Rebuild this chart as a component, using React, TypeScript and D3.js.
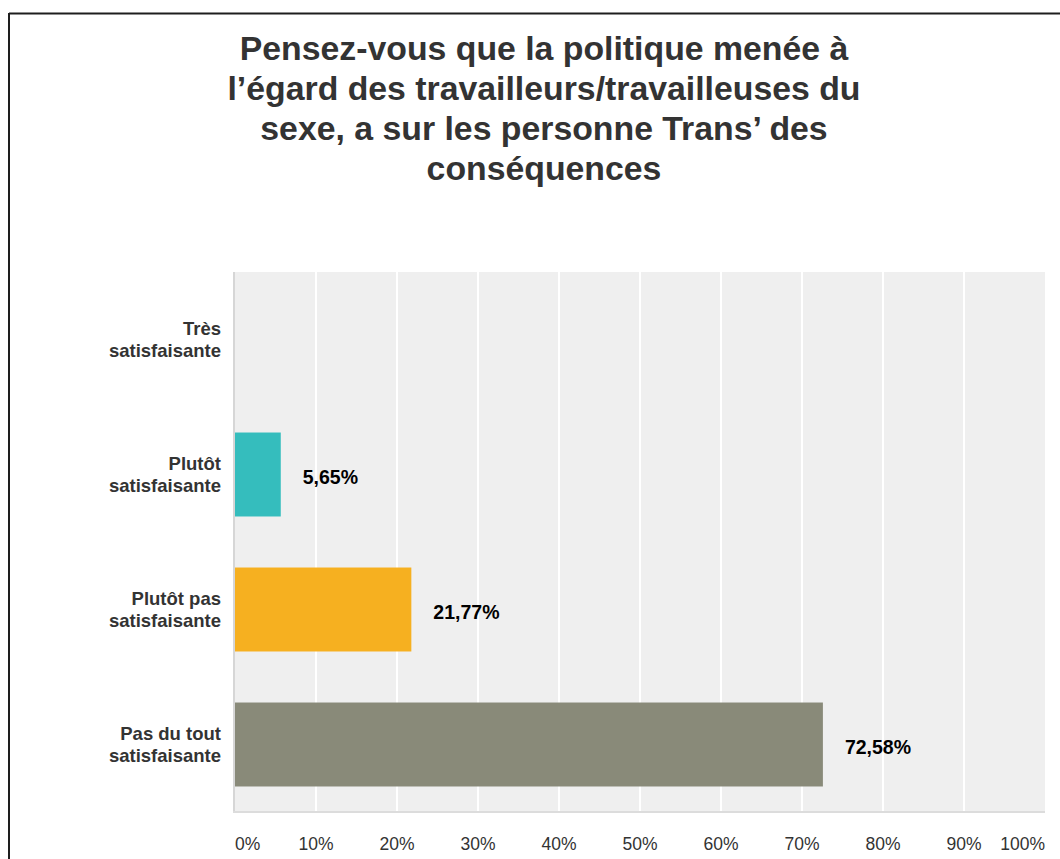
import React from 'react';
import * as d3 from 'd3';

const titleLines = [
  'Pensez-vous que la politique menée à',
  'l’égard des travailleurs/travailleuses du',
  'sexe, a sur les personne Trans’ des',
  'conséquences',
];
const categories = ['Très satisfaisante', 'Plutôt satisfaisante', 'Plutôt pas satisfaisante', 'Pas du tout satisfaisante'];
const labelLines = [
  ['Très', 'satisfaisante'],
  ['Plutôt', 'satisfaisante'],
  ['Plutôt pas', 'satisfaisante'],
  ['Pas du tout', 'satisfaisante'],
];
const values = [0, 5.65, 21.77, 72.58];
const colors = ['#35bdbd', '#35bdbd', '#f6b020', '#898a79'];
const ticks = [0, 10, 20, 30, 40, 50, 60, 70, 80, 90, 100];

const font = '"Liberation Sans", Arial, sans-serif';

const App = () => {
  const width = 1060;
  const height = 859;
  const plot = { left: 235, right: 1045, top: 272, bottom: 812 };

  const x = d3.scaleLinear().domain([0, 100]).range([plot.left, plot.right]);
  const y = d3.scaleBand<string>()
    .domain(categories)
    .range([plot.top, plot.bottom])
    .paddingInner(0.378)
    .paddingOuter(0.189);

  const fmt = (v: number) => v.toFixed(2).replace('.', ',') + '%';

  return (
    <svg width={width} height={height} style={{ position: 'absolute', left: 0, top: 0, fontFamily: font }}>
      <rect x={0} y={0} width={width} height={height} fill="#ffffff" />
      {/* frame */}
      <line x1={9} y1={13.5} x2={width} y2={13.5} stroke="#1e1e1e" strokeWidth={2} />
      <line x1={9} y1={13} x2={9} y2={height} stroke="#1e1e1e" strokeWidth={2} />

      {/* title */}
      {titleLines.map((t, i) => (
        <text key={i} x={544} y={60 + i * 40} textAnchor="middle" fontSize={33.8} fontWeight="bold" fill="#333333">
          {t}
        </text>
      ))}

      {/* plot background */}
      <rect x={plot.left} y={plot.top} width={plot.right - plot.left} height={plot.bottom - plot.top} fill="#efefef" />
      {ticks.slice(1, -1).map((t) => (
        <line key={t} x1={x(t)} x2={x(t)} y1={plot.top} y2={plot.bottom} stroke="#ffffff" strokeWidth={2} />
      ))}
      <line x1={plot.left - 1} x2={plot.left - 1} y1={plot.top} y2={plot.bottom + 1} stroke="#d6d6d6" strokeWidth={2} />
      <line x1={plot.left - 2} x2={plot.right} y1={plot.bottom} y2={plot.bottom} stroke="#dcdcdc" strokeWidth={2} />

      {/* bars */}
      {categories.map((c, i) => {
        const y0 = y(c) as number;
        const cy = y0 + y.bandwidth() / 2;
        return (
          <g key={c}>
            {values[i] > 0 && (
              <rect x={x(0)} y={y0} width={x(values[i]) - x(0)} height={y.bandwidth()} fill={colors[i]} />
            )}
            {values[i] > 0 && (
              <text x={x(values[i]) + 22} y={cy + 9} fontSize={19.5} fontWeight="bold" fill="#000000">
                {fmt(values[i])}
              </text>
            )}
            {labelLines[i].map((l, j) => (
              <text key={j} x={221} y={cy - 4.5 + j * 22} textAnchor="end" fontSize={18.5} fontWeight="bold" fill="#333333">
                {l}
              </text>
            ))}
          </g>
        );
      })}

      {/* x axis labels */}
      {ticks.map((t, i) => (
        <text
          key={t}
          x={x(t)}
          y={850}
          textAnchor={i === 0 ? 'start' : i === ticks.length - 1 ? 'end' : 'middle'}
          fontSize={17.5}
          fill="#333333"
        >
          {t}%
        </text>
      ))}
    </svg>
  );
};

export default App;
